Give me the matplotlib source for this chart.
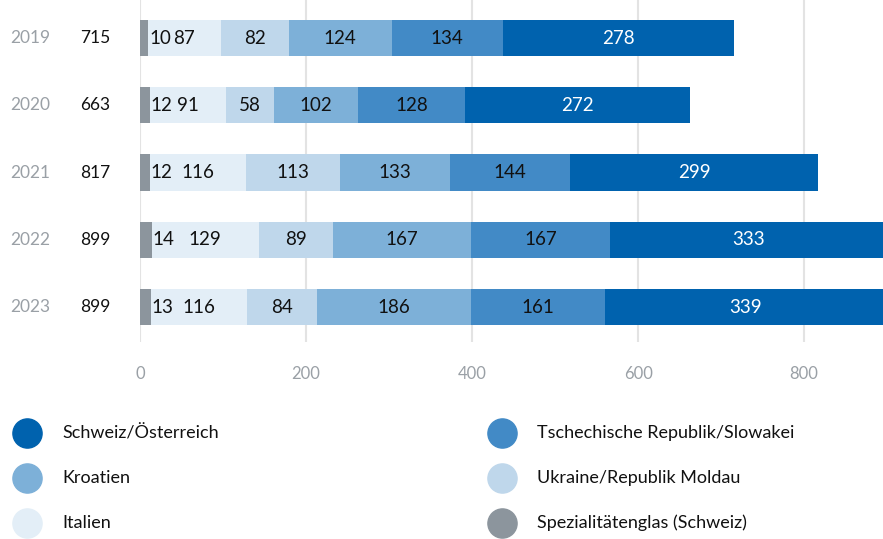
import matplotlib.pyplot as plt
from matplotlib.lines import Line2D
import numpy as np

plt.rcParams['font.family'] = ['Lato', 'DejaVu Sans']

jahre = ["2019", "2020", "2021", "2022", "2023"]
gesamt = [715, 663, 817, 899, 899]

# Reihenfolge der Segmente von links nach rechts
laender = ["Spezialitätenglas (Schweiz)", "Italien", "Ukraine/Republik Moldau",
           "Kroatien", "Tschechische Republik/Slowakei", "Schweiz/Österreich"]
spezial = [10, 12, 12, 14, 13]
italien = [87, 91, 116, 129, 116]
ukraine = [82, 58, 113, 89, 84]
kroatien = [124, 102, 133, 167, 186]
tschechien = [134, 128, 144, 167, 161]
schweiz = [278, 272, 299, 333, 339]

farben = ["#8c959d", "#e3eef7", "#bfd7eb", "#7db0d8", "#428ac6", "#0062ae"]
werte = [spezial, italien, ukraine, kroatien, tschechien, schweiz]

fig = plt.figure(figsize=(8.83, 5.39), dpi=100)
ax = fig.add_axes([140/883, 1 - 342/539, 743/883, 342/539])

y = np.arange(len(jahre))
links = np.zeros(len(jahre))
for i, (name, w, c) in enumerate(zip(laender, werte, farben)):
    w = np.array(w)
    ax.barh(y, w, left=links, height=0.54, color=c, zorder=3)
    for j in range(len(jahre)):
        if i == 0:
            ax.text(links[j] + w[j] + 1, y[j], str(w[j]), ha="left", va="center",
                    fontsize=13.5, color="#111111", zorder=4)
        else:
            col = "white" if i == 5 else "#111111"
            ax.text(links[j] + w[j] / 2, y[j], str(w[j]), ha="center", va="center",
                    fontsize=13.5, color=col, zorder=4)
    links += w

trans = ax.get_yaxis_transform()
for j in range(len(jahre)):
    ax.text(-0.148, y[j], jahre[j], transform=trans, ha="center", va="center",
            fontsize=12.5, color="#9aa0a6")
    ax.text(-0.0606, y[j], str(gesamt[j]), transform=trans, ha="center", va="center",
            fontsize=12.5, color="#111111")

ax.set_xlim(0, 895)
ax.set_ylim(4.52, -0.565)
ax.set_xticks([0, 200, 400, 600, 800])
ax.set_yticks([])
ax.grid(axis="x", color="#e3e3e3", linewidth=1.5, zorder=0)
ax.tick_params(axis="x", length=0, pad=17, labelsize=12, labelcolor="#9aa0a6")
for s in ax.spines.values():
    s.set_visible(False)

# Legende
leg = [("Schweiz/Österreich", "#0062ae", 27, 433),
       ("Kroatien", "#7db0d8", 27, 478),
       ("Italien", "#e3eef7", 27, 523),
       ("Tschechische Republik/Slowakei", "#428ac6", 502, 433),
       ("Ukraine/Republik Moldau", "#bfd7eb", 502, 478),
       ("Spezialitätenglas (Schweiz)", "#8c959d", 502, 523)]
for text, c, px, py in leg:
    fig.add_artist(Line2D([px / 883], [1 - py / 539], marker="o", markersize=21,
                          color=c, linestyle="none", transform=fig.transFigure))
    fig.text((px + 35) / 883, 1 - py / 539, text, ha="left", va="center",
             fontsize=13, color="#111111")

fig.savefig("out.png", dpi=100)
